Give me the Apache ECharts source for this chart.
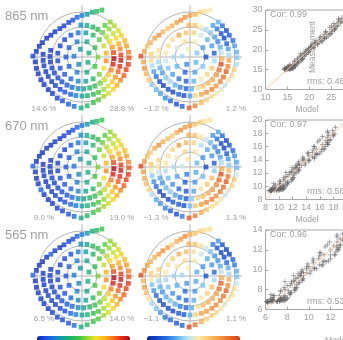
<!DOCTYPE html>
<html>
<head>
<meta charset="utf-8">
<script src="https://cdn.jsdelivr.net/npm/echarts@6/dist/echarts.min.js"></script>
<style>
    html, body {margin: 0; padding: 0; background: #fff;}
    #chart {width: 343px; height: 340px;}
</style>
</head>
<body>
<div id="chart"></div>
<script>
    // viewing geometry, same for every polar panel (zenith in plot units, azimuth in degrees)
    const viewZenith = [
        49, 46, 44, 42, 40, 38, 37, 36, 36, 37, 38, 40, 41.5, 43, 46, 48, 51,
        47, 47, 47, 47, 47, 47, 47, 48, 48, 49, 50, 51, 49, 47, 46, 45, 45, 45, 45, 45, 46, 46, 47, 47, 47, 46, 46, 45, 45, 45, 45,
        39, 39, 39, 39, 39, 39, 39, 39, 39, 39, 39, 39, 39, 39, 39, 39, 39, 39, 39, 39, 39, 39, 39, 39, 39, 39, 39, 39, 39,
        32, 32, 32, 32, 32, 32, 32, 32, 32, 32, 32, 32, 32, 32, 32, 32, 32, 32, 32, 32, 32, 32, 32, 32, 32, 32, 32, 32,
        24.5, 24.5, 24.5, 24.5, 24.5, 24.5, 24.5, 24.5, 24.5, 24.5, 24.5, 24.5, 24.5, 24.5, 24.5, 24.5, 24.5, 24.5, 24.5, 24.5,
        16, 16, 16, 16, 16, 16, 16, 16, 16, 16,
        8, 8, 8, 8, 8
    ];
    const relAzimuth = [
        179, 173, 166, 160, 152, 145, 137, 128, 120, 111, 104, 97, 90, 83, 77, 72, 67,
        186, 194, 201, 209, 216, 224, 231, 239, 246, 254, 261, 269, 276, 284, 291, 299, 306, 314, 321, 329, 336, 344, 351, 359, 6, 14, 21, 29, 36, 44, 51,
        176, 185, 193, 202, 210, 219, 227, 236, 244, 253, 261, 270, 278, 287, 295, 304, 312, 321, 329, 338, 346, 355, 3, 12, 20, 29, 37, 46, 54,
        168, 179, 189, 200, 210, 221, 231, 242, 252, 263, 273, 284, 294, 305, 315, 326, 336, 347, 357, 8, 18, 29, 39, 50, 60, 70, 81, 92,
        9, 27, 45, 63, 81, 99, 117, 135, 153, 171, 189, 207, 225, 243, 261, 279, 297, 315, 333, 351,
        0, 36, 72, 108, 144, 180, 216, 252, 288, 324,
        30, 102, 174, 246, 318
    ];

    // measured reflectance (%)
    const refl865 = [
        15.4, 15.2, 15.1, 15.0, 15.0, 15.0, 15.1, 15.2, 15.3, 15.5, 15.8, 16.3, 17.2, 18.2, 19.2, 20.0, 20.6,
        15.2, 15.2, 15.1, 15.1, 15.1, 15.2, 15.3, 15.4, 15.6, 16.0, 16.8, 19.0, 20.0, 20.8, 21.5, 22.5, 23.3, 24.0, 25.0, 25.8, 26.5, 27.0, 27.2, 26.8, 26.0, 25.3, 24.6, 24.0, 23.4, 22.8, 22.2,
        15.2, 15.2, 15.2, 15.2, 15.3, 15.3, 15.4, 15.5, 15.8, 16.4, 17.2, 18.4, 19.5, 20.4, 21.2, 22.3, 23.3, 24.5, 25.6, 26.6, 27.5, 28.0, 27.2, 26.0, 25.0, 24.0, 23.0, 22.2, 21.4,
        15.3, 15.3, 15.3, 15.4, 15.5, 15.6, 15.8, 16.2, 16.9, 17.8, 18.8, 19.8, 20.7, 21.8, 23.0, 24.5, 26.0, 27.8, 28.6, 27.0, 25.4, 24.0, 22.8, 21.7, 20.6, 20.0, 19.0, 17.8,
        25.0, 23.0, 21.5, 20.0, 18.5, 17.0, 16.0, 15.5, 15.4, 15.4, 15.5, 15.7, 16.0, 16.6, 17.6, 18.8, 20.0, 21.8, 23.8, 25.8,
        22.0, 20.5, 19.0, 17.5, 16.3, 16.0, 16.3, 17.5, 19.2, 21.0,
        19.6, 18.2, 17.2, 17.8, 19.4
    ];
    const refl670 = [
        10.4, 9.4, 9.4, 9.3, 9.3, 9.3, 9.4, 9.4, 9.5, 9.6, 9.8, 10.2, 10.8, 11.5, 12.2, 12.8, 13.2,
        9.4, 9.4, 9.4, 10.4, 9.4, 9.4, 9.5, 9.6, 9.7, 10.0, 10.6, 12.1, 12.8, 13.4, 13.9, 14.6, 15.1, 15.6, 16.3, 16.9, 17.4, 17.7, 17.9, 17.6, 17.0, 16.5, 16.0, 15.6, 15.2, 14.8, 14.4,
        9.4, 9.4, 9.4, 9.4, 9.5, 9.5, 9.6, 9.6, 9.8, 10.3, 10.8, 11.7, 12.5, 13.1, 13.7, 14.4, 15.1, 16.0, 16.7, 17.5, 18.1, 18.4, 17.9, 17.0, 16.3, 15.6, 14.9, 14.4, 13.8,
        9.5, 9.5, 9.5, 9.6, 9.6, 9.7, 9.8, 10.1, 10.6, 11.3, 12.0, 12.7, 13.3, 14.1, 14.9, 16.0, 17.0, 18.3, 18.9, 17.7, 16.6, 15.6, 14.8, 14.0, 13.2, 12.8, 12.1, 11.3,
        16.3, 14.9, 13.9, 12.8, 11.8, 10.7, 10.0, 9.6, 9.6, 9.6, 9.6, 9.8, 10.0, 10.4, 11.1, 12.0, 12.8, 14.1, 15.5, 16.9,
        14.2, 13.2, 12.1, 11.0, 10.2, 10.0, 10.2, 11.0, 12.2, 13.5,
        12.5, 11.5, 10.8, 11.3, 12.4
    ];
    const refl565 = [
        7.5, 6.8, 6.8, 6.7, 6.7, 7.4, 6.8, 6.8, 6.9, 7.0, 7.1, 7.4, 7.9, 8.4, 8.9, 9.4, 9.7,
        6.8, 6.8, 6.8, 6.8, 6.8, 6.8, 6.9, 6.9, 7.0, 7.2, 7.7, 8.8, 9.4, 9.8, 10.1, 10.7, 11.1, 11.5, 12.0, 12.4, 12.8, 13.1, 13.2, 12.9, 12.5, 12.2, 11.8, 11.5, 11.1, 10.8, 10.5,
        6.8, 6.8, 6.8, 6.8, 6.9, 6.9, 6.9, 7.0, 7.1, 7.5, 7.9, 8.5, 9.1, 9.6, 10.0, 10.6, 11.1, 11.7, 12.3, 12.8, 13.3, 13.6, 13.2, 12.5, 12.0, 11.5, 10.9, 10.5, 10.1,
        6.9, 6.9, 6.9, 6.9, 7.0, 7.0, 7.1, 7.3, 7.7, 8.2, 8.7, 9.2, 9.7, 10.3, 10.9, 11.7, 12.5, 13.5, 13.9, 13.0, 12.2, 11.5, 10.8, 10.2, 9.7, 9.4, 8.8, 8.2,
        12.0, 10.9, 10.1, 9.4, 8.6, 7.8, 7.2, 7.0, 6.9, 6.9, 7.0, 7.1, 7.2, 7.6, 8.1, 8.7, 9.4, 10.3, 11.4, 12.4,
        10.4, 9.6, 8.8, 8.0, 7.4, 7.2, 7.4, 8.0, 8.9, 9.9,
        9.1, 8.4, 7.9, 8.2, 9.0
    ];

    // measurement minus model (%)
    const resid865 = [
        1.1, 0.6, 0.4, 0.5, 0.6, 0.7, 0.5, 0.4, 0.5, 0.6, 0.7, 0.7, 0.6, 0.5, 0.3, 0.2, 0.1,
        0.6, 0.7, 0.5, 0.4, -0.3, -0.4, -0.5, -0.6, -0.8, -0.9, -0.8, 1.0, 0.8, 0.5, 0.3, 0.2, 0.1, 0.0, -0.1, 0.1, 0.2, 0.3, -0.2, -0.3, -0.4, -0.5, -0.7, -0.8, -0.9, -0.7, -0.4,
        0.3, 0.2, -0.2, -0.5, -0.7, -0.9, -1.0, -0.9, -1.0, -0.8, -0.9, -0.5, 0.3, 0.6, 0.7, 0.8, 0.7, 0.8, 0.9, 1.0, 0.8, 0.6, -0.2, -0.5, -0.8, -1.0, -0.9, -0.7, -0.5,
        0.2, 0.1, -0.2, -0.4, -0.5, -0.3, -0.2, -0.4, -0.6, -0.8, -0.4, 0.2, 0.4, 0.5, 0.6, 0.7, 0.9, 1.1, 0.5, -0.1, -0.4, -0.6, -0.5, -0.3, -0.2, 0.1, 0.4, 0.5,
        -0.8, -0.5, -0.4, -0.1, 0.3, 0.4, 0.6, 0.2, 0.2, 0.1, -0.1, -0.3, -0.5, -0.7, -0.8, -0.4, 0.1, 0.3, 0.4, -0.2,
        -0.9, -0.5, 0.1, 0.2, 0.0, -0.2, -0.4, -0.8, -0.5, -0.3,
        -0.3, 0.1, -0.2, -0.6, -0.4
    ];
    const resid670 = [
        1.2, 0.7, 0.5, 0.4, 0.6, 0.8, 0.6, 0.5, 0.4, 0.6, 0.8, 0.7, 0.7, 0.5, 0.4, 0.2, 0.2,
        0.7, 0.6, 0.5, 0.3, -0.2, -0.5, -0.6, -0.7, -0.9, -1.0, -0.7, 1.1, 0.9, 0.6, 0.4, 0.2, 0.2, 0.1, -0.1, 0.0, 0.3, 0.4, -0.1, -0.4, -0.5, -0.6, -0.8, -0.9, -1.0, -0.8, -0.5,
        0.4, 0.1, -0.3, -0.6, -0.8, -1.0, -1.1, -1.0, -0.9, -0.9, -1.0, -0.4, 0.4, 0.7, 0.8, 0.9, 0.8, 0.9, 1.0, 1.1, 0.9, 0.5, -0.3, -0.6, -0.9, -1.1, -1.0, -0.8, -0.6,
        0.3, 0.2, -0.1, -0.5, -0.6, -0.4, -0.3, -0.5, -0.7, -0.9, -0.3, 0.3, 0.5, 0.6, 0.7, 0.8, 1.0, 1.2, 0.6, -0.2, -0.5, -0.7, -0.6, -0.4, -0.1, 0.2, 0.5, 0.6,
        -0.9, -0.6, -0.5, -0.2, 0.3, 0.5, 0.7, 0.3, 0.2, 0.2, -0.2, -0.4, -0.6, -0.8, -0.9, -0.5, 0.2, 0.4, 0.5, -0.3,
        -1.0, -0.6, 0.2, 0.3, 0.1, -0.2, -0.5, -0.9, -0.6, -0.4,
        -0.4, 0.2, -0.1, -0.7, -0.5
    ];
    const resid565 = [
        1.0, 0.7, 0.6, 0.5, 0.5, 0.6, 0.7, 0.6, 0.3, 0.5, 0.6, 0.7, 0.5, 0.4, 0.3, 0.2, 0.2,
        0.5, 0.6, 0.4, 0.2, -0.2, -0.3, -0.5, -0.6, -0.7, -0.8, -0.7, 1.0, 0.8, 0.5, 0.3, 0.3, 0.2, 0.1, 0.0, 0.1, 0.2, 0.2, -0.1, -0.3, -0.4, -0.6, -0.7, -0.9, -0.9, -0.8, -0.5,
        0.3, 0.1, -0.3, -0.5, -0.7, -0.8, -0.9, -0.9, -0.9, -0.8, -0.8, -0.4, 0.3, 0.6, 0.6, 0.7, 0.7, 0.7, 0.8, 0.9, 0.7, 0.5, -0.2, -0.4, -0.7, -0.9, -0.9, -0.8, -0.6,
        0.3, 0.2, -0.2, -0.4, -0.5, -0.4, -0.3, -0.4, -0.6, -0.7, -0.4, 0.2, 0.4, 0.5, 0.5, 0.6, 0.8, 0.9, 0.5, -0.1, -0.4, -0.5, -0.5, -0.3, -0.1, 0.2, 0.4, 0.5,
        -0.7, -0.5, -0.4, -0.1, 0.2, 0.4, 0.5, 0.3, 0.2, 0.1, -0.2, -0.3, -0.5, -0.6, -0.7, -0.4, 0.1, 0.3, 0.4, -0.2,
        -0.8, -0.5, 0.1, 0.2, 0.1, -0.2, -0.4, -0.7, -0.5, -0.3,
        -0.4, 0.1, -0.2, -0.5, -0.4
    ];

    const bands = ['865 nm', '670 nm', '565 nm'];
    const reflRange = [[14.6, 28.8], [9.0, 19.0], [6.5, 14.0]];
    const residRange = [1.2, 1.3, 1.1];
    const scatterRange = [[10, 30], [8, 20], [6, 14]];
    const scatterStep = [5, 2, 2];
    const corText = ['Cor: 0.99', 'Cor: 0.97', 'Cor: 0.96'];
    const rmsText = ['rms: 0.46', 'rms: 0.58', 'rms: 0.53'];

    const rainbow = ['#0c22b0', '#1b4fe2', '#1a78d8', '#139f9f', '#1fb36a', '#3cc443',
        '#98d92f', '#f2e423', '#fdb51c', '#f9731b', '#e72a17', '#a40818'];
    const diverge = ['#0a2a9c', '#1448cc', '#2a78e4', '#62b4ee', '#bfe6f7',
        '#fbe9a8', '#f9c46a', '#f39a42', '#e96a26', '#d63614'];

    const gray = '#a0a0a0';
    const lineGray = '#b4b4b4';
    const font = '"Liberation Sans", Arial, sans-serif';
    const narrow = '"Liberation Sans Narrow", "Liberation Sans", sans-serif';

    const rowY = [57, 167, 276];          // polar centres
    const rowLabelY = [109, 218, 319];    // range labels under polars
    const gridTop = [10, 120, 230];
    const gridW = [87.6, 81.5, 86.7];

    let polar = [], angleAxis = [], radiusAxis = [];
    let grid = [], xAxis = [], yAxis = [];
    let series = [], visualMap = [], graphic = [];

    function txt(x, y, s, size, align, fam, extra) {
        let el = {
            type: 'text', x: x, y: y, silent: true,
            style: {
                text: s, fill: gray, fontSize: size, fontFamily: fam || font,
                textAlign: align, align: align, textVerticalAlign: 'middle', verticalAlign: 'middle'
            }
        };
        if (extra) Object.assign(el, extra);
        graphic.push(el);
    }

    const reflArr = [refl865, refl670, refl565];
    const residArr = [resid865, resid670, resid565];

    for (let r = 0; r < 3; r++) {
        let cy = rowY[r];
        [82, 190].forEach(function (cx, k) {
            // rings
            let pi = polar.length;
            polar.push({center: [cx, cy], radius: 45});
            angleAxis.push({
                polarIndex: pi, type: 'value', min: 0, max: 360, startAngle: 0, clockwise: false,
                axisLine: {show: false}, axisTick: {show: false}, axisLabel: {show: false}, splitLine: {show: false}
            });
            radiusAxis.push({
                polarIndex: pi, type: 'value', min: 0, max: 45, interval: 15,
                axisLine: {show: false}, axisTick: {show: false}, axisLabel: {show: false},
                splitLine: {show: true, lineStyle: {color: lineGray, width: 1}}
            });
            // cross hair
            polar.push({center: [cx, cy], radius: 52});
            angleAxis.push({
                polarIndex: pi + 1, type: 'value', min: 0, max: 360, interval: 90, startAngle: 0, clockwise: false,
                axisLine: {show: false}, axisTick: {show: false}, axisLabel: {show: false},
                splitLine: {show: true, lineStyle: {color: lineGray, width: 1}}
            });
            radiusAxis.push({
                polarIndex: pi + 1, type: 'value', min: 0, max: 52,
                axisLine: {show: false}, axisTick: {show: false}, axisLabel: {show: false}, splitLine: {show: false}
            });

            let vals = k === 0 ? reflArr[r] : residArr[r];
            series.push({
                type: 'scatter', coordinateSystem: 'polar', polarIndex: pi,
                symbol: 'rect', symbolSize: 4.8, clip: false, silent: true, z: 5,
                data: viewZenith.map(function (vz, i) {
                    return [vz, relAzimuth[i], vals[i]];
                })
            });
        });

        // model vs measurement
        let lo = scatterRange[r][0], hi = scatterRange[r][1];
        grid.push({
            left: 265.5, top: gridTop[r], width: gridW[r], height: 79.5,
            show: true, borderColor: '#a8a8a8', borderWidth: 1, backgroundColor: 'transparent',
            containLabel: false, outerBoundsMode: 'none'
        });
        let axisCommon = {
            gridIndex: r, type: 'value', min: lo, max: hi, interval: scatterStep[r],
            axisLine: {show: false}, splitLine: {show: false},
            axisTick: {show: true, inside: true, length: 3, lineStyle: {color: '#a8a8a8'}},
            axisLabel: {color: gray, fontSize: 9, fontFamily: font, margin: 4}
        };
        xAxis.push(Object.assign({}, axisCommon));
        yAxis.push(Object.assign({}, axisCommon, {axisLabel: {color: gray, fontSize: 9, fontFamily: font, margin: 3}}));

        let meas = reflArr[r], res = residArr[r];
        series.push({
            type: 'scatter', xAxisIndex: r, yAxisIndex: r, silent: true,
            symbol: 'path://M0,5L10,5M5,0L5,10', symbolSize: 5,
            itemStyle: {color: 'rgba(0,0,0,0)', borderColor: '#666', borderWidth: 0.7},
            data: meas.map(function (m, i) {
                return [+(m - res[i]).toFixed(2), m];
            }),
            markLine: {
                silent: true, symbol: 'none', label: {show: false},
                lineStyle: {color: '#f2cba8', width: 1, type: 'solid'},
                data: [[{coord: [lo, lo]}, {coord: [hi, hi]}]]
            }
        });

        // colour scales (only the bottom row draws its bar)
        visualMap.push({
            type: 'continuous', seriesIndex: 3 * r, dimension: 2,
            min: reflRange[r][0], max: reflRange[r][1], inRange: {color: rainbow},
            show: r === 2, orient: 'horizontal', left: 37, top: 336,
            itemWidth: 8, itemHeight: 93, calculable: false, hoverLink: false, padding: 0
        });
        visualMap.push({
            type: 'continuous', seriesIndex: 3 * r + 1, dimension: 2,
            min: -residRange[r], max: residRange[r], inRange: {color: diverge},
            show: r === 2, orient: 'horizontal', left: 147, top: 336,
            itemWidth: 8, itemHeight: 93, calculable: false, hoverLink: false, padding: 0
        });

        // texts
        txt(5, rowY[r] - 41, bands[r], 13, 'left');
        txt(44, rowLabelY[r], reflRange[r][0].toFixed(1) + ' %', 8, 'center', narrow);
        txt(122, rowLabelY[r], reflRange[r][1].toFixed(1) + ' %', 8, 'center', narrow);
        txt(156, rowLabelY[r], '\u2212' + residRange[r].toFixed(1) + ' %', 8, 'center', narrow);
        txt(236, rowLabelY[r], residRange[r].toFixed(1) + ' %', 8, 'center', narrow);
        txt(270, gridTop[r] + 5, corText[r], 9, 'left');
        txt(307, gridTop[r] + 72, rmsText[r], 9, 'left');
    }
    txt(313, 47, 'Measurement', 8.5, 'center', font, {rotation: Math.PI / 2});
    txt(307, 110, 'Model', 8.5, 'center');
    txt(307, 220, 'Model', 8.5, 'center');
    txt(325, 341, 'Model', 8.5, 'left');

    let myChart = echarts.init(document.getElementById('chart'));
    myChart.setOption({
        animation: false,
        backgroundColor: '#fff',
        polar: polar,
        angleAxis: angleAxis,
        radiusAxis: radiusAxis,
        grid: grid,
        xAxis: xAxis,
        yAxis: yAxis,
        visualMap: visualMap,
        series: series,
        graphic: graphic
    });
</script>
</body>
</html>
